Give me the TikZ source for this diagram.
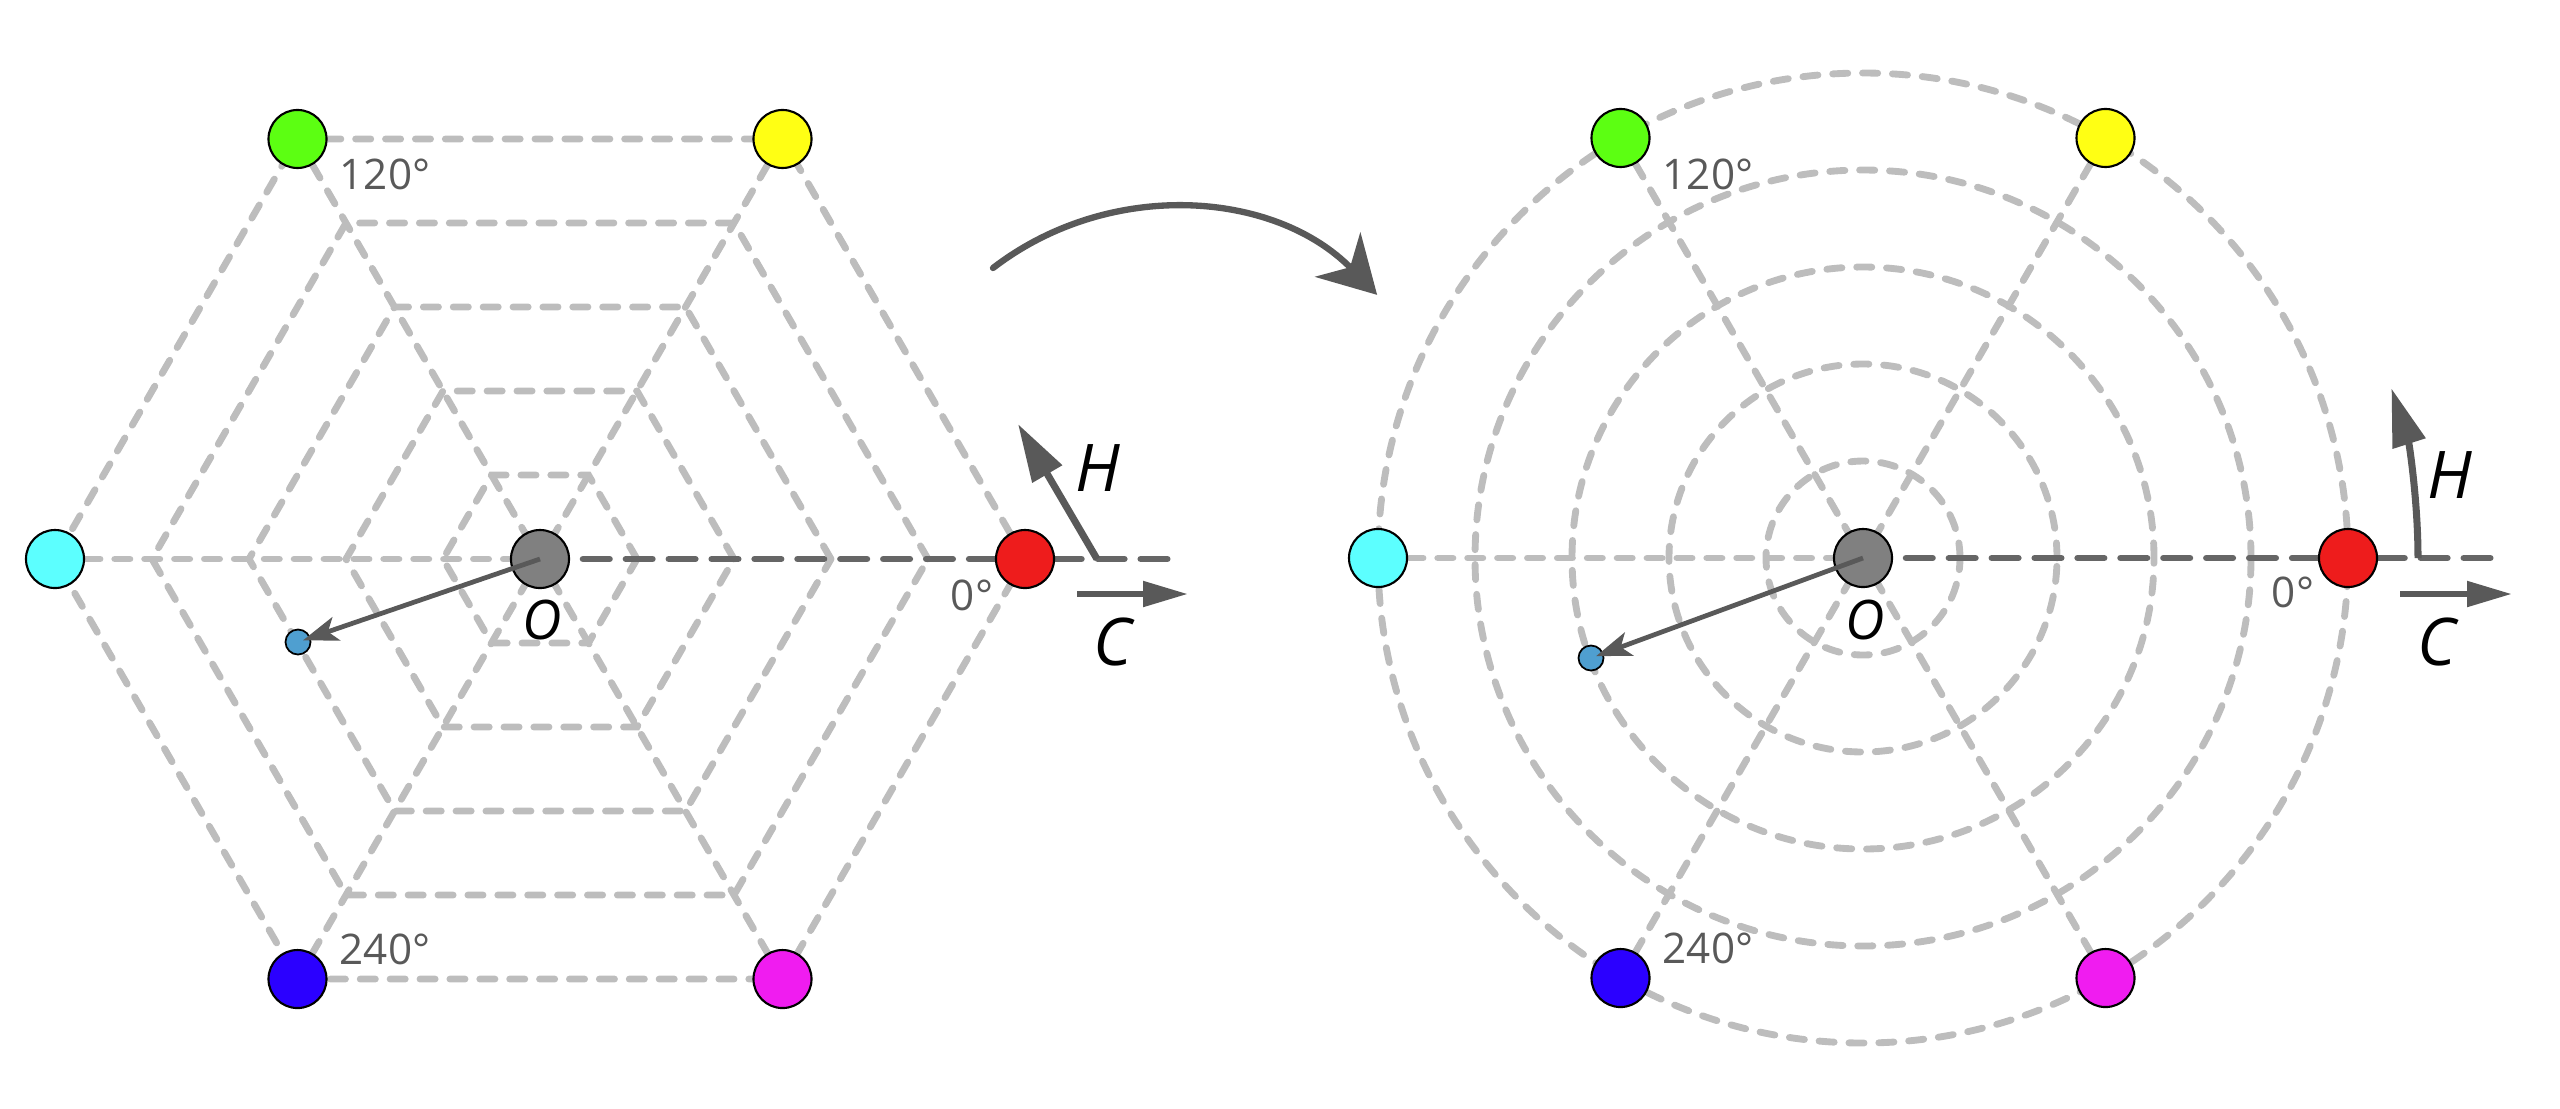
\documentclass[tikz,border=0pt]{standalone}
\usepackage{fontspec}
\setsansfont{Open Sans}
\usetikzlibrary{arrows.meta}
\definecolor{lg}{HTML}{BDBDBD}
\definecolor{dg}{HTML}{595959}
\definecolor{dd}{HTML}{666666}
\definecolor{cred}{HTML}{EE1C1C}
\definecolor{cyel}{HTML}{FFFF14}
\definecolor{cgrn}{HTML}{5CFF12}
\definecolor{ccyn}{HTML}{5CFFFF}
\definecolor{cblu}{HTML}{2B00FF}
\definecolor{cmag}{HTML}{F01CF0}
\definecolor{cgry}{HTML}{808080}
\definecolor{csml}{HTML}{4F9FD0}
\begin{document}
\begin{tikzpicture}[x=0.01cm,y=0.01cm,
  gridline/.style={draw=lg, line width=1.95pt, dash pattern=on 4.3pt off 4.2pt, line cap=round},
  axisline/.style={draw=dd, line width=1.8pt, dash pattern=on 7.6pt off 4.6pt, line cap=round},
  dot/.style={circle, draw=black, line width=0.6pt, minimum size=0.58cm, inner sep=0pt},
  smalldot/.style={circle, draw=black, line width=0.5pt, minimum size=0.25cm, inner sep=0pt, fill=csml},
  deg/.style={font=\sffamily\fontsize{12}{12}\selectfont, text=dg, inner sep=0pt},
  varH/.style={font=\sffamily\itshape\fontsize{18.7}{19}\selectfont, inner sep=0pt},
  varO/.style={font=\sffamily\itshape\fontsize{15.5}{16}\selectfont, inner sep=0pt},
  ptr/.style={draw=dg, line width=1.35pt, -{Stealth[length=10pt,width=7pt,inset=2.5pt]}},
  harrow/.style={draw=dg, line width=2pt, -{Triangle[length=16.5pt,width=9.4pt]}},
  carrow/.style={draw=dg, line width=1.8pt, -{Triangle[length=12.8pt,width=7pt]}},
  bigarrow/.style={draw=dg, line width=1.8pt, line cap=round, -{Stealth[length=16pt,width=18pt,inset=5pt]}}
]
\useasboundingbox (0,0) rectangle (2560,-1108);

% ---------- Left: hexagon ----------
\begin{scope}[shift={(540,-559)}]
  \foreach \k [evaluate=\k as \r using \k*97] in {1,...,5}
    \draw[gridline] (0:\r) -- (60:\r) -- (120:\r) -- (180:\r) -- (240:\r) -- (300:\r) -- cycle;
  \draw[gridline] (60:485) -- (240:485);
  \draw[gridline] (120:485) -- (300:485);
  \draw[gridline] (180:485) -- (0,0);
  \draw[axisline] (0,0) -- (637,0);
  \node[dot, fill=cgry] (LO) at (0,0) {};
  \node[dot, fill=cred] (Lr) at (0:485) {};
  \node[dot, fill=cyel] (Ly) at (60:485) {};
  \node[dot, fill=cgrn] (Lg) at (120:485) {};
  \node[dot, fill=ccyn] (Lc) at (180:485) {};
  \node[dot, fill=cblu] (Lb) at (240:485) {};
  \node[dot, fill=cmag] (Lm) at (300:485) {};
  \node[smalldot] (Lp) at (-242,-83) {};
  \draw[ptr, shorten >=1.5pt] (LO.center) -- (Lp.center);
  \node[varO] (LOl) at (2,-61) {O};
  \node[deg] (L120) at (-155,385) {120°};
  \node[deg] (L240) at (-155,-390) {240°};
  \node[deg] (L0) at (432,-36) {0°};
  \coordinate (LHs) at (557,0);
  \coordinate (LHe) at (478,135);
  \draw[harrow] (LHs) -- (LHe);
  \node[varH] (LH) at (558,91) {H};
  \coordinate (LCs) at (537,-35);
  \coordinate (LCe) at (648,-35);
  \draw[carrow] (LCs) -- (LCe);
  \node[varH] (LC) at (573,-83) {C};
\end{scope}

% ---------- big arrow ----------
\coordinate (Bs) at (993,-268);
\draw[bigarrow] (Bs) arc[start angle=127.6, end angle=44.4, radius=290];

% ---------- Right: circles ----------
\begin{scope}[shift={(1863,-558)}]
  \foreach \k [evaluate=\k as \r using \k*97] in {1,...,5}
    \draw[gridline] (0,0) circle[radius=\r];
  \draw[gridline] (60:485) -- (240:485);
  \draw[gridline] (120:485) -- (300:485);
  \draw[gridline] (180:485) -- (0,0);
  \draw[axisline] (0,0) -- (637,0);
  \node[dot, fill=cgry] (RO) at (0,0) {};
  \node[dot, fill=cred] (Rr) at (0:485) {};
  \node[dot, fill=cyel] (Ry) at (60:485) {};
  \node[dot, fill=cgrn] (Rg) at (120:485) {};
  \node[dot, fill=ccyn] (Rc) at (180:485) {};
  \node[dot, fill=cblu] (Rb) at (240:485) {};
  \node[dot, fill=cmag] (Rm) at (300:485) {};
  \node[smalldot] (Rp) at (-272,-100) {};
  \draw[ptr, shorten >=1.5pt] (RO.center) -- (Rp.center);
  \node[varO] (ROl) at (2,-62) {O};
  \node[deg] (R120) at (-155,384) {120°};
  \node[deg] (R240) at (-155,-390) {240°};
  \node[deg] (R0) at (430,-34) {0°};
  \coordinate (RHs) at (555,0);
  \draw[harrow] (RHs) arc[start angle=0, end angle=17.8, radius=555];
  \node[varH] (RH) at (587,83) {H};
  \coordinate (RCs) at (537,-36);
  \coordinate (RCe) at (649,-36);
  \draw[carrow] (RCs) -- (RCe);
  \node[varH] (RC) at (574,-84) {C};
\end{scope}
\end{tikzpicture}
\end{document}
